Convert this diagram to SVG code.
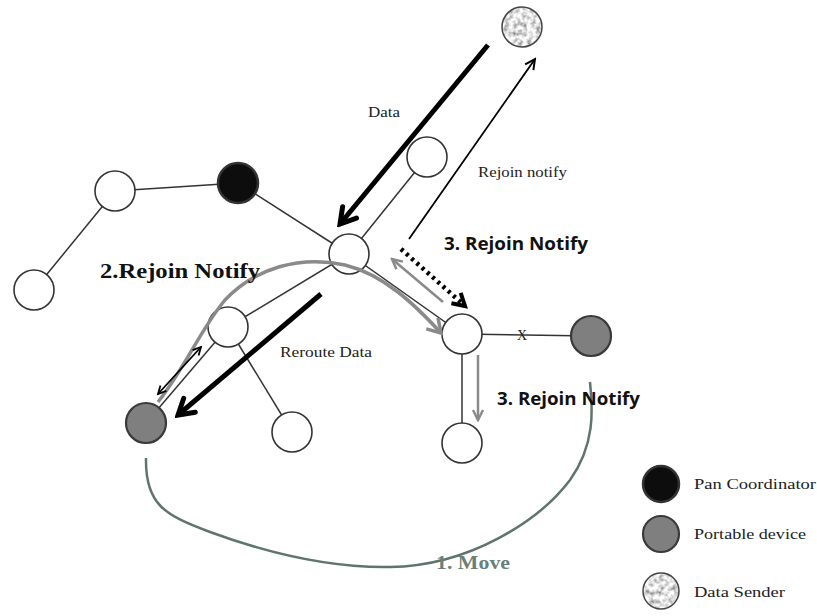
<svg xmlns="http://www.w3.org/2000/svg" width="817" height="616" viewBox="0 0 817 616">
<style>
.node{fill:#fff;stroke:#333;stroke-width:1.6}
.pan{fill:#0d0d0d;stroke:#333;stroke-width:2.5}
.port{fill:#7f7f7f;stroke:#3a3a3a;stroke-width:2.2}
.edge{stroke:#333;stroke-width:1.5;fill:none}
.serif{font-family:"Liberation Serif","DejaVu Serif",serif;fill:#222}
.bsans{font-family:"Open Sans","Liberation Sans",sans-serif;font-weight:bold;fill:#111}
.bserif{font-family:"Liberation Serif","DejaVu Serif",serif;font-weight:bold}
</style>
<defs>
<marker id="chevK" markerUnits="userSpaceOnUse" viewBox="-20 -12 24 24" markerWidth="24" markerHeight="24" refX="0" refY="0" orient="auto">
<path d="M-15,-9 L0,0 L-15,9" fill="none" stroke="#000" stroke-width="5" stroke-linecap="round"/>
</marker>
<marker id="chevKs" markerUnits="userSpaceOnUse" viewBox="-18 -12 22 24" markerWidth="22" markerHeight="24" refX="0" refY="0" orient="auto">
<path d="M-12,-7 L0,0 L-12,7" fill="none" stroke="#000" stroke-width="4"/>
</marker>
<marker id="thinK" markerUnits="userSpaceOnUse" viewBox="-14 -8 16 16" markerWidth="16" markerHeight="16" refX="0" refY="0" orient="auto">
<path d="M-10,-5 L0,0 L-10,5" fill="none" stroke="#000" stroke-width="2"/>
</marker>
<marker id="thinG" markerUnits="userSpaceOnUse" viewBox="-14 -8 16 16" markerWidth="16" markerHeight="16" refX="0" refY="0" orient="auto">
<path d="M-10,-5 L0,0 L-10,5" fill="none" stroke="#8a8a8a" stroke-width="2.5"/>
</marker>
<marker id="chevG" markerUnits="userSpaceOnUse" viewBox="-18 -12 22 24" markerWidth="22" markerHeight="24" refX="0" refY="0" orient="auto">
<path d="M-13,-8 L0,0 L-13,8" fill="none" stroke="#8a8a8a" stroke-width="3.5"/>
</marker>
<marker id="thinKs" markerUnits="userSpaceOnUse" viewBox="-12 -8 14 16" markerWidth="14" markerHeight="16" refX="0" refY="0" orient="auto-start-reverse">
<path d="M-8,-4 L0,0 L-8,4" fill="none" stroke="#000" stroke-width="1.8"/>
</marker>
<filter id="tex" x="0" y="0" width="1" height="1">
<feTurbulence type="fractalNoise" baseFrequency="0.22" numOctaves="2" seed="5"/>
<feColorMatrix type="matrix" values="1.5 0 0 0 0  1.5 0 0 0 0  1.5 0 0 0 0  0 0 0 0 1"/>
<feComposite in2="SourceGraphic" operator="in"/>
</filter>
</defs>

<g id="connectors">
<line class="edge" x1="34" y1="290" x2="115" y2="191"/>
<line class="edge" x1="115" y1="191" x2="238" y2="183"/>
<line class="edge" x1="238" y1="183" x2="349" y2="254"/>
<line class="edge" x1="349" y1="254" x2="427" y2="157"/>
<line class="edge" x1="349" y1="254" x2="228" y2="327"/>
<line class="edge" x1="228" y1="327" x2="146" y2="423"/>
<line class="edge" x1="228" y1="327" x2="292" y2="432"/>
<line class="edge" x1="349" y1="254" x2="462" y2="334"/>
<line class="edge" x1="462" y1="334" x2="591" y2="336"/>
<line class="edge" x1="462" y1="334" x2="462" y2="443"/>
</g>

<g id="node-left"><circle class="node" cx="34" cy="290" r="20"/></g>
<g id="node-a"><circle class="node" cx="115" cy="191" r="20"/></g>
<g id="node-pan"><circle class="pan" cx="238" cy="183" r="20"/></g>
<g id="node-center"><circle class="node" cx="349" cy="254" r="20"/></g>
<g id="node-upper"><circle class="node" cx="427" cy="157" r="20"/></g>
<g id="node-sender"><circle cx="522" cy="27" r="20" fill="#fff" filter="url(#tex)"/><circle cx="522" cy="27" r="20" fill="none" stroke="#444" stroke-width="1.5"/></g>
<g id="node-b"><circle class="node" cx="228" cy="327" r="20"/></g>
<g id="node-portable-left"><circle class="port" cx="146" cy="423" r="20"/></g>
<g id="node-bottom"><circle class="node" cx="292" cy="432" r="20"/></g>
<g id="node-right"><circle class="node" cx="462" cy="334" r="20"/></g>
<g id="node-bottom-right"><circle class="node" cx="462" cy="443" r="20"/></g>
<g id="node-portable-right"><circle class="port" cx="591" cy="336" r="20"/></g>

<g id="arrows">
<line x1="488" y1="45" x2="340" y2="224" stroke="#000" stroke-width="5" marker-end="url(#chevK)"/>
<line x1="409" y1="239" x2="535" y2="59" stroke="#000" stroke-width="1.8" marker-end="url(#thinK)"/>
<line x1="401" y1="249" x2="465" y2="306" stroke="#000" stroke-width="4.5" stroke-dasharray="3,4" marker-end="url(#chevKs)"/>
<line x1="443" y1="302" x2="392" y2="259" stroke="#8a8a8a" stroke-width="2.5" marker-end="url(#thinG)"/>
<path d="M158,402 C185,368 200,330 225,300 C255,268 300,255 345,265 C385,275 415,305 441,333" fill="none" stroke="#8a8a8a" stroke-width="3.5" marker-end="url(#chevG)"/>
<line x1="158" y1="394" x2="201" y2="347" stroke="#000" stroke-width="1.8" marker-start="url(#thinKs)" marker-end="url(#thinKs)"/>
<line x1="321" y1="294" x2="178" y2="415" stroke="#000" stroke-width="5" marker-end="url(#chevK)"/>
<line x1="478" y1="355" x2="478" y2="420" stroke="#8a8a8a" stroke-width="2.5" marker-end="url(#thinG)"/>
<path d="M146,458 C145,505 165,515 210,532 C270,554 330,568 390,567 C470,566 540,520 570,480 C595,445 593,410 590,382" fill="none" stroke="#5f746c" stroke-width="2.5"/>
</g>

<g id="labels">
<text class="serif" x="368" y="117" font-size="15" textLength="32" lengthAdjust="spacingAndGlyphs">Data</text>
<text class="serif" x="478" y="177" font-size="15" textLength="89" lengthAdjust="spacingAndGlyphs">Rejoin notify</text>
<text class="bsans" x="444" y="250" font-size="17" textLength="144" lengthAdjust="spacingAndGlyphs">3. Rejoin Notify</text>
<text class="bserif" x="100" y="278" font-size="20" fill="#111" textLength="160" lengthAdjust="spacingAndGlyphs">2.Rejoin Notify</text>
<text class="serif" x="280" y="357" font-size="15" textLength="92" lengthAdjust="spacingAndGlyphs">Reroute Data</text>
<text class="serif" x="517" y="340" font-size="14">X</text>
<text class="bsans" x="497" y="405" font-size="17" textLength="143" lengthAdjust="spacingAndGlyphs">3. Rejoin Notify</text>
<text class="bserif" x="436" y="569" font-size="18" fill="#6b7f79" textLength="74" lengthAdjust="spacingAndGlyphs">1. Move</text>
</g>

<g id="legend">
<circle class="pan" cx="661" cy="484" r="18"/>
<text class="serif" x="694" y="489" font-size="15" textLength="122" lengthAdjust="spacingAndGlyphs">Pan Coordinator</text>
<circle class="port" cx="661" cy="534" r="18"/>
<text class="serif" x="694" y="539" font-size="15" textLength="112" lengthAdjust="spacingAndGlyphs">Portable device</text>
<circle cx="661" cy="591" r="18" fill="#fff" filter="url(#tex)"/><circle cx="661" cy="591" r="18" fill="none" stroke="#444" stroke-width="1.5"/>
<text class="serif" x="694" y="597" font-size="15" textLength="91" lengthAdjust="spacingAndGlyphs">Data Sender</text>
</g>
</svg>
